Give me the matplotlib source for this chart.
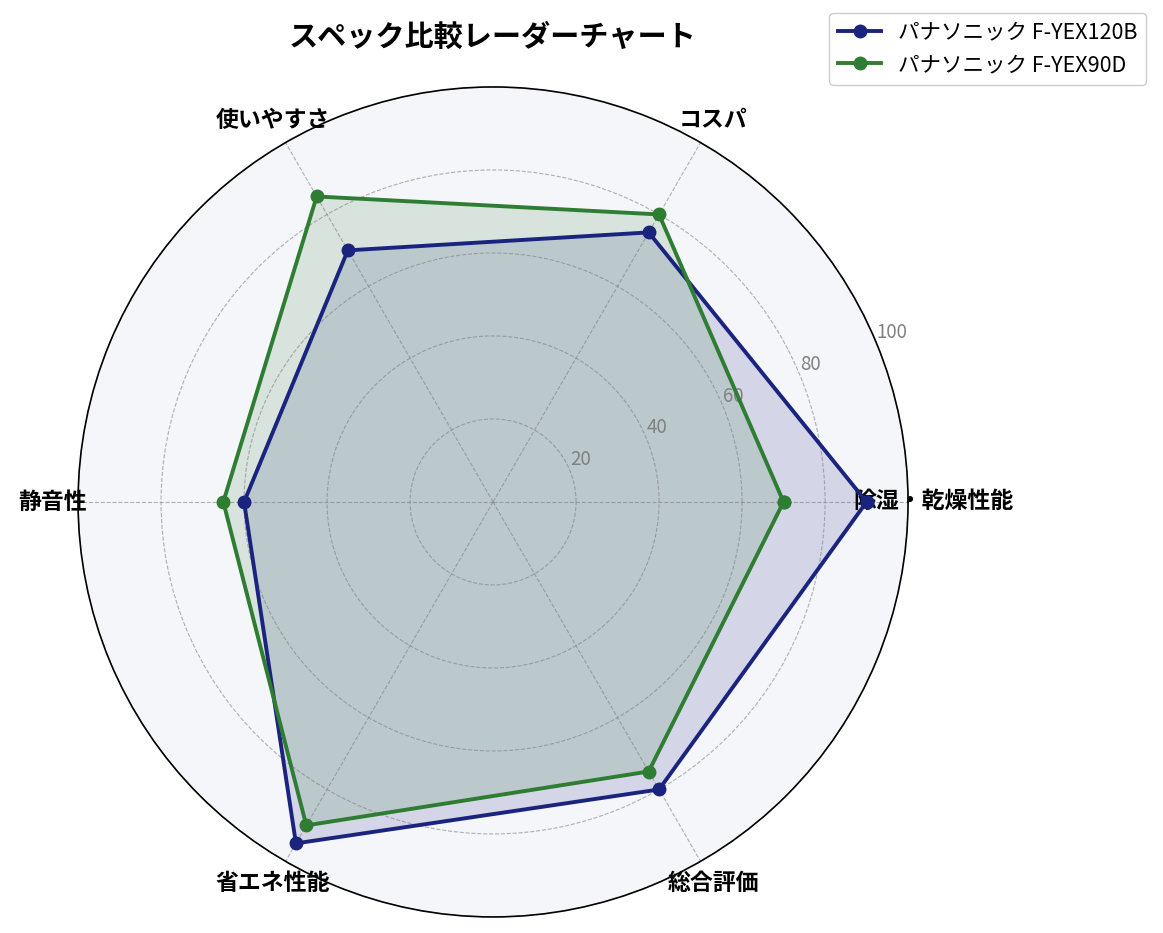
import numpy as np
import matplotlib
matplotlib.use("Agg")
import matplotlib.pyplot as plt

plt.rcParams['font.family'] = ['Noto Sans CJK JP', 'DejaVu Sans']

categories = ["除湿・乾燥性能", "コスパ", "使いやすさ", "静音性", "省エネ性能", "総合評価"]
series_names = ["パナソニック F-YEX120B", "パナソニック F-YEX90D"]
values_120b = [90, 75, 70, 60, 95, 80]
values_90d = [70, 80, 85, 65, 90, 75]
r_ticks = [20, 40, 60, 80, 100]
title = "スペック比較レーダーチャート"

colors = ["#1a237e", "#2e7d32"]

n = len(categories)
angles = np.linspace(0, 2 * np.pi, n, endpoint=False).tolist()
angles_closed = angles + angles[:1]

fig = plt.figure(figsize=(11.63, 9.33), dpi=100)
ax = fig.add_axes([0.0671, 0.0172, 0.7137, 0.8896], polar=True)
ax.set_facecolor("#f5f6fa")

for vals, name, c in zip([values_120b, values_90d], series_names, colors):
    v = list(vals) + vals[:1]
    ax.plot(angles_closed, v, color=c, linewidth=2.8, marker="o", markersize=9, label=name)
    ax.fill(angles_closed, v, color=c, alpha=0.15)

ax.set_ylim(0, 100)
ax.set_xticks(angles)
ax.set_xticklabels(categories, fontsize=16.5, fontweight="bold")
ax.tick_params(axis="x", pad=8)
ax.set_yticks(r_ticks)
ax.set_yticklabels([str(t) for t in r_ticks], fontsize=13.5, color="gray")
ax.set_rlabel_position(22.5)
ax.grid(True, linestyle="--", color="gray", alpha=0.6, linewidth=0.8)
ax.spines["polar"].set_color("black")
ax.spines["polar"].set_linewidth(1.2)

fig.text(0.424, 0.961, title, ha="center", va="center", fontsize=21, fontweight="bold")

fig.legend(loc="upper right", bbox_to_anchor=(0.995, 0.998), fontsize=15.5, framealpha=1.0, edgecolor="#cccccc")

fig.savefig("out.png", dpi=100)
